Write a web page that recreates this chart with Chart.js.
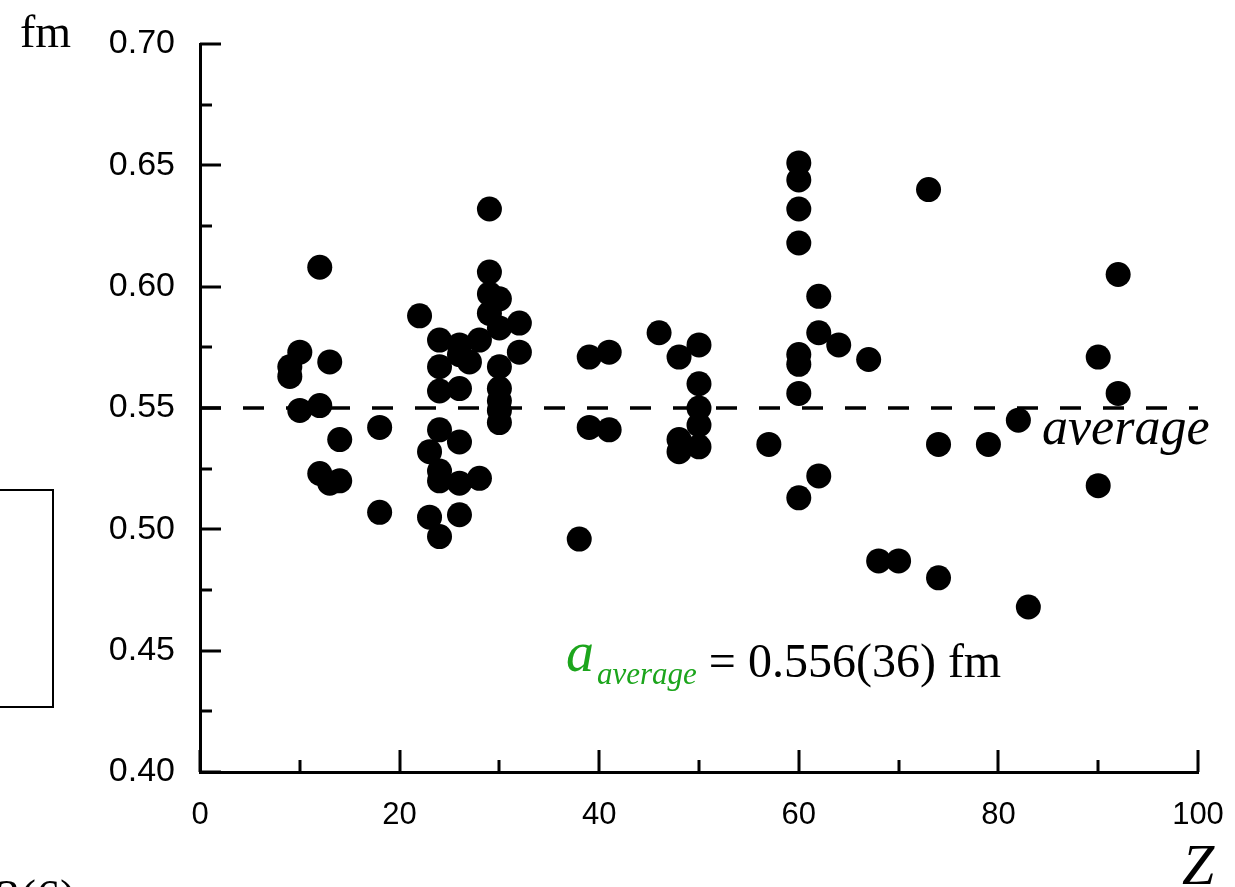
<!DOCTYPE html>
<html>
<head>
<meta charset="utf-8">
<script src="https://cdn.jsdelivr.net/npm/chart.js@4.4.1/dist/chart.umd.min.js"></script>
<style>
  body { margin: 0; background: #fff; }
  #chart { display: block; }
</style>
</head>
<body>
<canvas id="chart" width="1235" height="887"></canvas>
<script>
// proton number Z and diffuseness a (fm)
const zValues = [9, 9, 10, 10, 12, 12, 12, 13, 13, 14, 14, 18, 18,
  22, 23, 23, 24, 24, 24, 24, 24, 24, 24,
  26, 26, 26, 26, 26, 26, 27, 28, 28,
  29, 29, 29, 29, 30, 30, 30, 30, 30, 30, 30, 32, 32,
  38, 39, 39, 41, 41, 46, 48, 48, 48, 50, 50, 50, 50, 50,
  57, 60, 60, 60, 60, 60, 60, 60, 60, 62, 62, 62, 64, 67, 68, 70,
  73, 74, 74, 79, 82, 83, 90, 90, 92, 92];
const aValues = [0.567, 0.563, 0.573, 0.549, 0.608, 0.551, 0.523, 0.569, 0.519, 0.537, 0.520, 0.542, 0.507,
  0.588, 0.532, 0.505, 0.578, 0.567, 0.557, 0.541, 0.524, 0.520, 0.497,
  0.576, 0.572, 0.558, 0.536, 0.519, 0.506, 0.569, 0.578, 0.521,
  0.632, 0.606, 0.597, 0.589, 0.595, 0.583, 0.567, 0.558, 0.553, 0.549, 0.544, 0.585, 0.573,
  0.496, 0.571, 0.542, 0.573, 0.541, 0.581, 0.571, 0.537, 0.532, 0.576, 0.560, 0.550, 0.543, 0.534,
  0.535, 0.651, 0.644, 0.632, 0.618, 0.572, 0.568, 0.556, 0.513, 0.596, 0.581, 0.522, 0.576, 0.570, 0.487, 0.487,
  0.640, 0.535, 0.480, 0.535, 0.545, 0.468, 0.571, 0.518, 0.605, 0.556];
const averageA = 0.55;
const xTicks = [0, 20, 40, 60, 80, 100];
const yTicks = [0.40, 0.45, 0.50, 0.55, 0.60, 0.65, 0.70];

const points = zValues.map((z, i) => ({ x: z, y: aValues[i] }));

// inward ticks (major + minor), like the original plot
const inwardTicks = {
  id: "inwardTicks",
  afterDatasetsDraw(chart) {
    const { ctx, chartArea, scales } = chart;
    ctx.save();
    ctx.strokeStyle = "#000";
    ctx.lineWidth = 3;
    for (let v = 0.40; v <= 0.7001; v += 0.025) {
      const y = Math.round(scales.y.getPixelForValue(v));
      const major = Math.abs(v / 0.05 - Math.round(v / 0.05)) < 1e-6;
      ctx.beginPath();
      ctx.moveTo(chartArea.left, y);
      ctx.lineTo(chartArea.left + (major ? 21 : 12), y);
      ctx.stroke();
    }
    for (let v = 0; v <= 100; v += 10) {
      const x = Math.round(scales.x.getPixelForValue(v));
      const major = v % 20 === 0;
      ctx.beginPath();
      ctx.moveTo(x, chartArea.bottom);
      ctx.lineTo(x, chartArea.bottom - (major ? 22 : 12));
      ctx.stroke();
    }
    ctx.restore();
  }
};

const annotations = {
  id: "annotations",
  afterDraw(chart) {
    const { ctx, scales } = chart;
    ctx.save();
    ctx.fillStyle = "#000";
    ctx.textAlign = "left";
    ctx.textBaseline = "alphabetic";

    // axis units
    ctx.font = "46px 'Liberation Serif'";
    ctx.fillText("fm", 20, 47);
    ctx.font = "italic 58px 'Liberation Serif'";
    ctx.fillText("Z", 1182, 884);

    // label for the dashed line
    ctx.font = "italic 52px 'Liberation Serif'";
    ctx.fillText("average", 1042, scales.y.getPixelForValue(averageA) + 36);

    // a_average = 0.556(36) fm
    const rest = " = 0.556(36) fm";
    let x = 566;
    ctx.fillStyle = "#1ca51c";
    ctx.font = "italic 56px 'Liberation Serif'";
    ctx.fillText("a", x, 671);
    x += ctx.measureText("a").width + 3;
    ctx.font = "italic 31px 'Liberation Serif'";
    ctx.fillText("average", x, 684);
    x += ctx.measureText("average").width;
    ctx.fillStyle = "#000";
    ctx.font = "48px 'Liberation Serif'";
    ctx.fillText(rest, x, 677);

    // pieces of the neighbouring panel that are cut off on the left
    ctx.lineWidth = 2;
    ctx.strokeRect(-10, 490, 63, 217);
    ctx.font = "48px 'Liberation Serif'";
    ctx.fillText("3(6)", -4, 913);
    ctx.restore();
  }
};

new Chart(document.getElementById("chart"), {
  type: "scatter",
  data: {
    datasets: [
      {
        label: "a",
        data: points,
        pointRadius: 12.5,
        pointBackgroundColor: "#000",
        pointBorderWidth: 0,
        order: 1
      },
      {
        type: "line",
        label: "average",
        data: [{ x: 0, y: averageA }, { x: 100, y: averageA }],
        showLine: true,
        borderColor: "#000",
        borderWidth: 3.5,
        borderDash: [21, 22],
        pointRadius: 0,
        fill: false,
        order: 2
      }
    ]
  },
  options: {
    responsive: false,
    animation: false,
    layout: { padding: { top: 44, right: 37, left: 0, bottom: 0 } },
    plugins: { legend: { display: false }, tooltip: { enabled: false } },
    scales: {
      x: {
        type: "linear",
        min: 0,
        max: 100,
        afterFit(scale) {
          scale.height = 115;
          scale.paddingLeft = 0;
          scale.paddingRight = 0;
        },
        afterBuildTicks(scale) { scale.ticks = xTicks.map(v => ({ value: v })); },
        grid: { display: false, drawTicks: false },
        border: { display: true, color: "#000", width: 3 },
        ticks: {
          color: "#000",
          padding: 25,
          font: { family: "'Liberation Sans'", size: 31 },
          callback: v => String(v)
        }
      },
      y: {
        min: 0.40,
        max: 0.70,
        afterFit(scale) {
          scale.width = 200;
          scale.paddingTop = 0;
          scale.paddingBottom = 0;
        },
        afterBuildTicks(scale) { scale.ticks = yTicks.map(v => ({ value: v })); },
        grid: { display: false, drawTicks: false },
        border: { display: true, color: "#000", width: 3 },
        ticks: {
          color: "#000",
          padding: 25,
          font: { family: "'Liberation Sans'", size: 34 },
          callback: v => v.toFixed(2)
        }
      }
    }
  },
  plugins: [inwardTicks, annotations]
});
</script>
</body>
</html>
